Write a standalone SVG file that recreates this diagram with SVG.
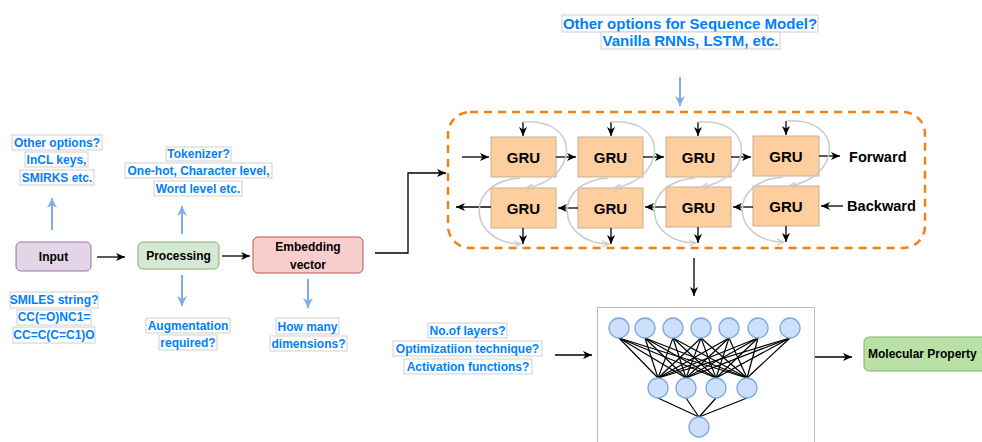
<svg xmlns="http://www.w3.org/2000/svg" width="982" height="442" viewBox="0 0 982 442">
<style>
.lbl{font-family:"Liberation Sans",Arial,sans-serif;font-weight:bold;font-size:12px;fill:#007FFF;text-anchor:middle}
.lblbox{fill:#fff;stroke:#cfcfcf;stroke-width:1}
.node{font-family:"Liberation Sans",Arial,sans-serif;font-weight:bold;font-size:12px;fill:#000;text-anchor:middle}
.gru rect{fill:#FFCE9F;stroke:#C9AE92;stroke-width:1}
.gru text{font-family:"Liberation Sans",Arial,sans-serif;font-weight:bold;font-size:15px;fill:#000;text-anchor:middle}
.blk{stroke:#000;stroke-width:1.3;fill:none;marker-end:url(#ah)}
.blu{stroke:#7EB0E8;stroke-width:2;fill:none;marker-end:url(#ahb)}
.gry{stroke:#CBCBCB;stroke-width:1.5;fill:none;marker-end:url(#ahg)}
.nn line{stroke:#000;stroke-width:1.2}
.nn circle{fill:#CCE0FB;stroke:#7EA6E0;stroke-width:1.3}
</style>
<defs>
<marker id="ah" markerWidth="10" markerHeight="10" refX="9" refY="5" orient="auto" markerUnits="userSpaceOnUse">
<path d="M0,1 L9,5 L0,9 L2.5,5 z" fill="#000"/>
</marker>
<marker id="ahb" markerWidth="12" markerHeight="12" refX="10" refY="6" orient="auto" markerUnits="userSpaceOnUse">
<path d="M0,1 L10,6 L0,11 L3,6 z" fill="#7EB0E8"/>
</marker>
<marker id="ahg" markerWidth="8" markerHeight="8" refX="7" refY="4" orient="auto" markerUnits="userSpaceOnUse">
<path d="M0,1 L7,4 L0,7" fill="none" stroke="#CBCBCB" stroke-width="1.2"/>
</marker>
</defs>
<rect width="982" height="442" fill="#fff"/>

<!-- container -->
<g id="seq-container">
<rect x="448" y="112" width="477" height="136" rx="22" fill="none" stroke="#F0820F" stroke-width="2.5" stroke-dasharray="8,6"/>
</g>

<!-- nodes -->
<g id="input"><rect x="16" y="242" width="75" height="29" rx="5" fill="#E1D5E7" stroke="#9673A6"/><text class="node" x="53.5" y="261">Input</text></g>
<g id="processing"><rect x="138" y="242" width="81" height="27" rx="5" fill="#D5E8D4" stroke="#82B366"/><text class="node" x="178.5" y="260">Processing</text></g>
<g id="embedding"><rect x="253" y="237" width="110" height="36" rx="5" fill="#F8CECC" stroke="#B85450"/><text class="node" x="308" y="251">Embedding</text><text class="node" x="308" y="269">vector</text></g>
<g id="molprop"><rect x="864" y="337" width="130" height="34" rx="5" fill="#B9E0A5" stroke="#82B366"/><text class="node" x="868" y="358" style="text-anchor:start">Molecular Property</text></g>

<g id="gru-f1" class="gru"><rect x="491" y="137" width="65" height="40"/><text x="523.5" y="163">GRU</text></g>
<g id="gru-f2" class="gru"><rect x="578" y="137" width="65" height="40"/><text x="610.5" y="163">GRU</text></g>
<g id="gru-f3" class="gru"><rect x="666" y="137" width="65" height="40"/><text x="698.5" y="163">GRU</text></g>
<g id="gru-f4" class="gru"><rect x="753" y="136" width="66" height="40"/><text x="786" y="162">GRU</text></g>
<g id="gru-b1" class="gru"><rect x="491" y="188" width="65" height="40"/><text x="523.5" y="214">GRU</text></g>
<g id="gru-b2" class="gru"><rect x="578" y="188" width="65" height="40"/><text x="610.5" y="214">GRU</text></g>
<g id="gru-b3" class="gru"><rect x="666" y="187" width="65" height="40"/><text x="698.5" y="213">GRU</text></g>
<g id="gru-b4" class="gru"><rect x="753" y="186" width="66" height="40"/><text x="786" y="212">GRU</text></g>

<g id="forward-label"><text class="node" x="849" y="162" style="text-anchor:start;font-size:14.6px">Forward</text></g>
<g id="backward-label"><text class="node" x="847" y="211" style="text-anchor:start;font-size:14.6px">Backward</text></g>

<!-- neural network -->
<g id="nn" class="nn">
<rect x="597.5" y="307.5" width="217" height="140" fill="#fff" stroke="#BDBDBD" stroke-width="1"/>
<g>
<line x1="619" y1="338" x2="658" y2="378"/><line x1="619" y1="338" x2="686" y2="378"/><line x1="619" y1="338" x2="716" y2="378"/><line x1="619" y1="338" x2="747" y2="378"/>
<line x1="645" y1="338" x2="658" y2="378"/><line x1="645" y1="338" x2="686" y2="378"/><line x1="645" y1="338" x2="716" y2="378"/><line x1="645" y1="338" x2="747" y2="378"/>
<line x1="673" y1="338" x2="658" y2="378"/><line x1="673" y1="338" x2="686" y2="378"/><line x1="673" y1="338" x2="716" y2="378"/><line x1="673" y1="338" x2="747" y2="378"/>
<line x1="701" y1="338" x2="658" y2="378"/><line x1="701" y1="338" x2="686" y2="378"/><line x1="701" y1="338" x2="716" y2="378"/><line x1="701" y1="338" x2="747" y2="378"/>
<line x1="729" y1="338" x2="658" y2="378"/><line x1="729" y1="338" x2="686" y2="378"/><line x1="729" y1="338" x2="716" y2="378"/><line x1="729" y1="338" x2="747" y2="378"/>
<line x1="758" y1="338" x2="658" y2="378"/><line x1="758" y1="338" x2="686" y2="378"/><line x1="758" y1="338" x2="716" y2="378"/><line x1="758" y1="338" x2="747" y2="378"/>
<line x1="790" y1="338" x2="658" y2="378"/><line x1="790" y1="338" x2="686" y2="378"/><line x1="790" y1="338" x2="716" y2="378"/><line x1="790" y1="338" x2="747" y2="378"/>
<line x1="658" y1="398" x2="699" y2="417"/><line x1="686" y1="398" x2="699" y2="417"/><line x1="716" y1="398" x2="699" y2="417"/><line x1="747" y1="398" x2="699" y2="417"/>
</g>
<circle cx="619" cy="328" r="10"/><circle cx="645" cy="328" r="10"/><circle cx="673" cy="328" r="10"/><circle cx="701" cy="328" r="10"/><circle cx="729" cy="328" r="10"/><circle cx="758" cy="328" r="10"/><circle cx="790" cy="328" r="10"/>
<circle cx="658" cy="388" r="10"/><circle cx="686" cy="388" r="10"/><circle cx="716" cy="388" r="10"/><circle cx="747" cy="388" r="10"/>
<circle cx="699" cy="427" r="10"/>
</g>

<!-- labels -->
<g id="lbl-input-above">
<rect class="lblbox" x="12" y="135" width="90" height="15"/><text class="lbl" x="57" y="146.5">Other options?</text>
<rect class="lblbox" x="25" y="152" width="63" height="15"/><text class="lbl" x="56.5" y="163.5">InCL keys,</text>
<rect class="lblbox" x="20" y="170" width="74" height="15"/><text class="lbl" x="57" y="181.5">SMIRKS etc.</text>
</g>
<g id="lbl-input-below">
<rect class="lblbox" x="10" y="292" width="88" height="16"/><text class="lbl" x="54" y="304">SMILES string?</text>
<rect class="lblbox" x="17" y="310" width="74" height="15"/><text class="lbl" x="54" y="321">CC(=O)NC1=</text>
<rect class="lblbox" x="13" y="327" width="82" height="16"/><text class="lbl" x="54" y="339">CC=C(C=C1)O</text>
</g>
<g id="lbl-proc-above">
<rect class="lblbox" x="166" y="147" width="65" height="14"/><text class="lbl" x="198.5" y="158">Tokenizer?</text>
<rect class="lblbox" x="125" y="163" width="147" height="15"/><text class="lbl" x="198.5" y="174.5">One-hot, Character level,</text>
<rect class="lblbox" x="154" y="181" width="88" height="15"/><text class="lbl" x="198" y="192.5">Word level etc.</text>
</g>
<g id="lbl-proc-below">
<rect class="lblbox" x="146" y="318" width="84" height="15"/><text class="lbl" x="188" y="329.5">Augmentation</text>
<rect class="lblbox" x="159" y="335" width="58" height="15"/><text class="lbl" x="188" y="346.5">required?</text>
</g>
<g id="lbl-emb-below">
<rect class="lblbox" x="276" y="318" width="63" height="16"/><text class="lbl" x="307.5" y="330.5">How many</text>
<rect class="lblbox" x="270" y="336" width="77" height="15"/><text class="lbl" x="308.5" y="347.5">dimensions?</text>
</g>
<g id="lbl-nn">
<rect class="lblbox" x="428" y="323" width="79" height="15"/><text class="lbl" x="467.5" y="334.5">No.of layers?</text>
<rect class="lblbox" x="393" y="341" width="149" height="15"/><text class="lbl" x="467.5" y="352.5">Optimizatiion technique?</text>
<rect class="lblbox" x="404" y="359" width="128" height="15"/><text class="lbl" x="468" y="370.5">Activation functions?</text>
</g>
<g id="lbl-seq">
<rect class="lblbox" x="562" y="15" width="256" height="17"/><text class="lbl" x="690" y="29" style="font-size:15px">Other options for Sequence Model?</text>
<rect class="lblbox" x="601" y="32" width="179" height="17"/><text class="lbl" x="690.5" y="46" style="font-size:15px">Vanilla RNNs, LSTM, etc.</text>
</g>

<!-- connectors -->
<g id="connectors">
<path class="blk" d="M97,257 H125"/>
<path class="blk" d="M222,256 H250"/>
<path class="blk" d="M375,253 H408 V173 H446"/>
<path class="blk" d="M694,258 V296"/>
<path class="blk" d="M555,355 H592"/>
<path class="blk" d="M815,357 H852"/>

<path class="blu" d="M52,230 V198"/>
<path class="blu" d="M182,234 V206"/>
<path class="blu" d="M182,275 V306"/>
<path class="blu" d="M308,279 V308"/>
<path class="blu" d="M680,77 V106"/>

<!-- forward row -->
<path class="blk" d="M462,157 H489"/>
<path class="blk" d="M556,157 H576"/>
<path class="blk" d="M643,157 H664"/>
<path class="blk" d="M731,157 H751"/>
<path class="blk" d="M819,156 H840"/>
<!-- backward row -->
<path class="blk" d="M843,206 H821"/>
<path class="blk" d="M753,207 H733"/>
<path class="blk" d="M666,207 H645"/>
<path class="blk" d="M578,208 H558"/>
<path class="blk" d="M491,207 H456"/>
<!-- vertical -->
<path class="blk" d="M523,122 V136"/>
<path class="blk" d="M611,122 V136"/>
<path class="blk" d="M698,122 V136"/>
<path class="blk" d="M786,121 V135"/>
<path class="blk" d="M523,228 V244"/>
<path class="blk" d="M611,228 V244"/>
<path class="blk" d="M698,227 V243"/>
<path class="blk" d="M786,226 V242"/>
<!-- gray skip curves -->
<path class="gry" d="M523,122 C583,118 578,180 526,188"/>
<path class="gry" d="M611,122 C671,118 666,180 614,188"/>
<path class="gry" d="M698,122 C758,118 753,180 701,187"/>
<path class="gry" d="M786,121 C846,117 841,178 789,186"/>
<path class="gry" d="M520,178 C463,182 468,243 521,244"/>
<path class="gry" d="M608,178 C551,182 556,243 609,244"/>
<path class="gry" d="M695,178 C638,182 643,243 696,243"/>
<path class="gry" d="M783,177 C726,181 731,242 784,242"/>
</g>
</svg>
